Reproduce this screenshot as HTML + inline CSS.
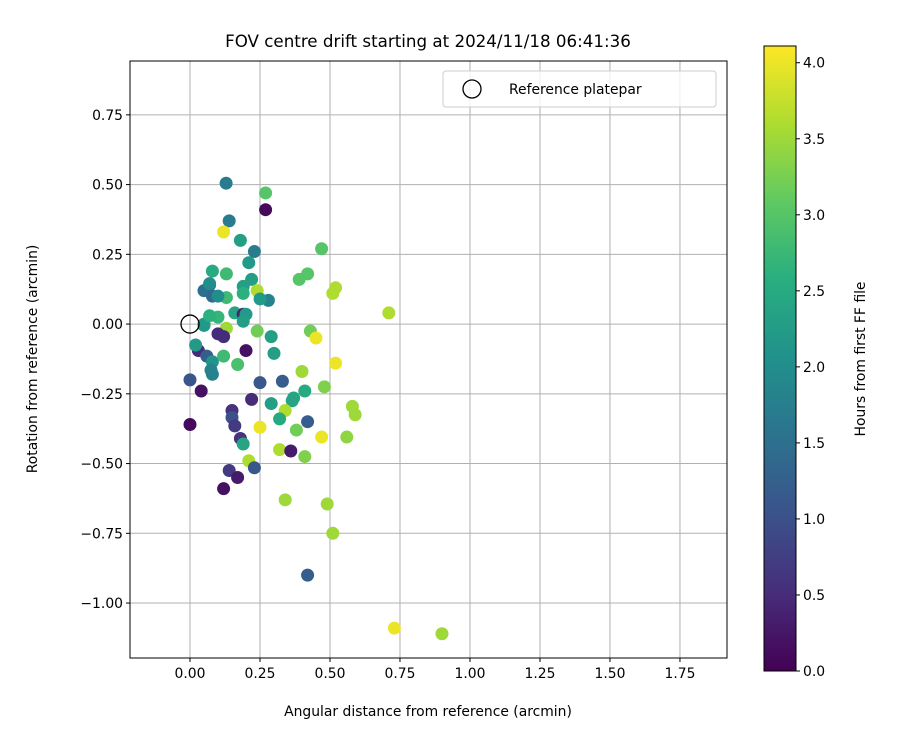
<!DOCTYPE html>
<html><head><meta charset="utf-8"><style>
body{margin:0;background:#fff;}
svg{font-family:"DejaVu Sans","Liberation Sans",sans-serif;display:block}
</style></head><body>
<svg id="c" width="900" height="750" viewBox="0 0 900 750">
<defs><linearGradient id="vir" x1="0" y1="1" x2="0" y2="0">
<stop offset="0" stop-color="#440154"/><stop offset="0.125" stop-color="#472d7b"/><stop offset="0.25" stop-color="#3b528b"/><stop offset="0.375" stop-color="#2c728e"/><stop offset="0.5" stop-color="#21918c"/><stop offset="0.625" stop-color="#28ae80"/><stop offset="0.75" stop-color="#5ec962"/><stop offset="0.875" stop-color="#addc30"/><stop offset="1" stop-color="#fde725"/>
</linearGradient></defs>
<text x="428" y="47" text-anchor="middle" font-size="16.7">FOV centre drift starting at 2024/11/18 06:41:36</text>
<g id="grid"></g>
<g id="pts"></g>
<rect x="130" y="61" width="597" height="597" fill="none" stroke="#000" stroke-width="1"/>
<g id="ticks"></g>
<text x="428" y="716" text-anchor="middle" font-size="13.9">Angular distance from reference (arcmin)</text>
<text transform="translate(37,359) rotate(-90)" text-anchor="middle" font-size="13.9">Rotation from reference (arcmin)</text>
<g>
<rect x="443" y="71" width="273" height="36" rx="3" fill="#fff" fill-opacity="0.8" stroke="#ccc"/>
<circle cx="472" cy="89" r="9" fill="none" stroke="#000" stroke-width="1.3"/>
<text x="509" y="94" font-size="13.9">Reference platepar</text>
</g>
<rect x="764" y="46" width="32" height="625" fill="url(#vir)" stroke="#000" stroke-width="1"/>
<g id="cticks"></g>
<text transform="translate(865,359) rotate(-90)" text-anchor="middle" font-size="13.9">Hours from first FF file</text>
</svg>
<script>
const xTicks=[0,0.25,0.5,0.75,1.0,1.25,1.5,1.75];
const yTicks=[-1.0,-0.75,-0.5,-0.25,0,0.25,0.5,0.75];
const cTicks=[0,0.5,1.0,1.5,2.0,2.5,3.0,3.5,4.0];
const xs=[0.129,0.27,0.27,0.14,0.12,0.18,0.47,0.23,0.21,0.08,0.13,0.42,0.39,0.22,0.19,0.07,0.05,0.08,0.24,0.19,0.13,0.28,0.25,0.51,0.52,0.10,0.16,0.19,0.20,0.10,0.19,0.05,0.13,0.24,0.29,0.43,0.45,0.10,0.12,0.20,0.03,0.02,0.06,0.08,0.12,0.17,0.30,0.52,0.08,0.075,0.0,0.04,0.25,0.33,0.40,0.48,0.41,0.37,0.365,0.22,0.29,0.15,0.34,0.15,0.42,0.32,0.58,0.59,0.16,0.0,0.25,0.38,0.47,0.56,0.18,0.19,0.32,0.36,0.41,0.21,0.23,0.14,0.17,0.12,0.34,0.49,0.51,0.42,0.71,0.73,0.90,0.07,0.05,0.07];
const ys=[0.505,0.47,0.41,0.37,0.33,0.30,0.27,0.26,0.22,0.19,0.18,0.18,0.16,0.16,0.135,0.14,0.12,0.10,0.12,0.11,0.095,0.085,0.09,0.11,0.13,0.10,0.04,0.035,0.035,0.025,0.01,0.0,-0.015,-0.025,-0.045,-0.025,-0.05,-0.035,-0.045,-0.095,-0.095,-0.075,-0.115,-0.135,-0.115,-0.145,-0.105,-0.14,-0.18,-0.165,-0.2,-0.24,-0.21,-0.205,-0.17,-0.225,-0.24,-0.265,-0.275,-0.27,-0.285,-0.31,-0.31,-0.335,-0.35,-0.34,-0.295,-0.325,-0.365,-0.36,-0.37,-0.38,-0.405,-0.405,-0.41,-0.43,-0.45,-0.455,-0.475,-0.49,-0.515,-0.525,-0.55,-0.59,-0.63,-0.645,-0.75,-0.9,0.04,-1.09,-1.11,0.145,-0.005,0.03];
const hs=[1.7,3.0,0.1,1.7,4.0,2.3,3.0,1.7,2.2,2.5,2.8,3.0,3.0,2.3,2.3,1.6,1.5,1.4,3.6,2.6,2.8,1.8,2.2,3.6,3.6,2.0,2.4,0.4,2.2,2.7,2.3,2.2,3.5,3.2,2.3,3.2,4.0,0.5,0.5,0.2,0.5,2.2,1.2,2.1,2.8,2.9,2.3,4.0,1.8,1.8,1.1,0.2,1.1,1.2,3.5,3.3,2.5,2.4,2.4,0.5,2.3,0.6,3.6,1.0,1.2,2.5,3.5,3.5,0.7,0.1,4.0,3.2,4.0,3.4,0.6,2.4,3.6,0.3,3.3,3.6,1.1,0.7,0.3,0.2,3.5,3.5,3.5,1.2,3.6,4.0,3.5,2.0,2.2,2.6];
const NS="http://www.w3.org/2000/svg";
const X0=130,X1=727,Y0=61,Y1=658,xmin=-0.2143,xmax=1.918,ymin=-1.197,ymax=0.943,cmax=4.11;
const sx=v=>X0+(v-xmin)/(xmax-xmin)*(X1-X0);
const sy=v=>Y1-(v-ymin)/(ymax-ymin)*(Y1-Y0);
const sc=v=>671-v/cmax*625;
const stops=[[68,1,84],[71,45,123],[59,82,139],[44,114,142],[33,145,140],[40,174,128],[94,201,98],[173,220,48],[253,231,37]];
function vir(h){let t=Math.max(0,Math.min(1,h/cmax))*8;let i=Math.min(7,Math.floor(t)),f=t-i;const a=stops[i],b=stops[i+1];return`rgb(${a.map((c,k)=>Math.round(c+(b[k]-c)*f)).join(',')})`;}
function mk(tag,attrs,parent,txt){const e=document.createElementNS(NS,tag);for(const k in attrs)e.setAttribute(k,attrs[k]);if(txt!==undefined)e.textContent=txt;parent.appendChild(e);return e;}
const grid=document.getElementById('grid'),tk=document.getElementById('ticks'),pts=document.getElementById('pts'),ct=document.getElementById('cticks');
xTicks.forEach(v=>{const x=sx(v);
const g=mk('line',{x1:x,x2:x,y1:Y0,y2:Y1,stroke:'#b0b0b0','stroke-width':1},grid);


mk('line',{x1:x,x2:x,y1:Y1,y2:Y1+4,stroke:'#000'},tk);
const t=mk('text',{x:x,y:Y1+20,'text-anchor':'middle','font-size':13.9},tk,v.toFixed(2));

});
yTicks.forEach(v=>{const y=sy(v);
const g=mk('line',{x1:X0,x2:X1,y1:y,y2:y,stroke:'#b0b0b0','stroke-width':1},grid);


mk('line',{x1:X0-4,x2:X0,y1:y,y2:y,stroke:'#000'},tk);
const t=mk('text',{x:X0-7,y:y+5,'text-anchor':'end','font-size':13.9},tk,(v<0?'\u2212':'')+Math.abs(v).toFixed(2));

});
xs.forEach((v,i)=>{const c=mk('circle',{cx:sx(v),cy:sy(ys[i]),r:6.5,fill:vir(hs[i])},pts);

});
const ref=mk('circle',{cx:sx(0),cy:sy(0),r:9,fill:'none',stroke:'#000','stroke-width':1.3},pts);


cTicks.forEach(v=>{const y=sc(v);
mk('line',{x1:796,x2:800,y1:y,y2:y,stroke:'#000'},ct);
const t=mk('text',{x:803,y:y+5,'font-size':13.9},ct,v.toFixed(1));

});
</script>
</body></html>
